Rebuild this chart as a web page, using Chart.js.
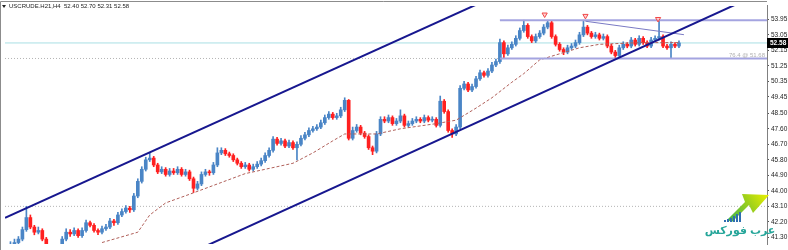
<!DOCTYPE html>
<html><head><meta charset="utf-8">
<script src="https://cdn.jsdelivr.net/npm/chart.js@4"></script>
<style>html,body{margin:0;padding:0;background:#fff;overflow:hidden}#wrap{width:788px;height:250px;position:relative}</style>
</head><body><div id="wrap"><canvas id="c" width="788" height="250"></canvas></div>
<script>
const symbolTitle = "USCRUDE.H21,H4";
const lastQuote = ["52.40", "52.70", "52.31", "52.58"];

const opens = [40.3,40.6,40.9,41.0,41.2,41.75,42.45,41.9,41.6,41.7,
41.2,40.6,40.2,40.4,40.6,41.2,41.6,41.5,41.7,41.4,
41.7,42.15,42.0,41.7,41.6,41.8,41.9,42.25,42.15,42.6,
42.8,43.0,42.9,43.7,44.55,45.25,45.8,45.9,45.5,45.1,
45.25,44.95,45.15,45.05,45.25,44.95,45.1,44.7,44.15,44.4,
44.95,45.1,45.05,45.5,46.2,46.35,46.15,46.05,45.8,45.6,
45.4,45.5,45.25,45.4,45.55,45.75,46.05,46.35,47.0,46.75,
46.9,46.6,46.8,46.5,46.7,47.05,47.25,47.5,47.6,47.7,
47.95,48.25,48.45,48.25,48.35,48.7,49.25,47.05,47.5,47.7,
47.35,47.15,46.5,46.3,47.3,48.15,48.05,48.25,47.9,48.05,
48.35,47.8,47.9,48.05,48.15,48.05,48.25,48.1,48.15,47.8,
49.2,48.6,47.5,47.3,47.7,49.95,50.2,49.85,50.05,50.5,
50.85,50.7,50.95,51.3,51.5,52.6,51.95,52.3,52.5,52.85,
53.3,53.6,52.95,52.7,52.95,53.15,53.5,53.75,52.95,52.5,
52.2,52.05,52.3,52.4,52.6,53.05,53.5,53.15,52.95,53.05,
52.85,52.95,52.4,52.05,51.85,52.3,52.5,52.4,52.75,52.5,
52.85,52.6,52.4,52.75,52.85,52.95,52.4,52.3,52.5,52.40];

const highs = [40.75,41.05,41.2,41.35,41.9,43.1,42.6,42.0,41.9,41.8,
41.3,40.7,40.55,40.75,41.35,41.8,41.75,41.85,41.8,41.85,
42.3,42.25,42.1,41.8,41.95,42.05,42.4,42.35,42.75,42.95,
43.15,43.1,43.85,44.7,45.4,45.95,46.2,46.0,45.6,45.4,
45.35,45.3,45.3,45.4,45.35,45.25,45.2,44.8,44.55,45.1,
45.25,45.2,45.65,46.5,46.5,46.45,46.25,46.15,45.9,45.7,
45.65,45.6,45.55,45.7,45.9,46.2,46.5,47.15,47.1,47.05,
47.0,46.95,46.9,46.85,47.2,47.4,47.65,47.75,47.85,48.1,
48.4,48.6,48.55,48.5,48.85,49.4,49.3,47.7,47.85,47.8,
47.45,47.25,46.6,47.45,48.3,48.3,48.4,48.35,48.2,48.7,
48.45,48.05,48.2,48.3,48.25,48.4,48.35,48.3,48.25,49.5,
49.3,48.7,47.6,47.85,50.1,50.35,50.3,50.2,50.65,51.0,
50.95,51.1,51.45,51.65,52.8,52.7,52.45,52.65,53.0,53.45,
53.9,53.7,53.05,53.1,53.3,53.65,53.9,53.85,53.05,52.6,
52.3,52.45,52.55,52.75,53.2,53.9,53.6,53.25,53.2,53.15,
53.1,53.05,52.5,52.15,52.45,52.65,52.6,52.9,52.85,53.0,
52.95,52.7,52.9,53.0,53.85,53.05,52.5,52.65,52.6,52.70];

const lows = [40.2,40.5,40.8,40.9,41.1,41.65,41.8,41.45,41.5,41.1,
40.5,40.05,40.1,40.3,40.5,41.1,41.35,41.4,41.3,41.3,
41.6,41.9,41.6,41.45,41.5,41.7,41.8,42.0,42.05,42.5,
42.7,42.75,42.8,43.6,44.45,45.15,45.7,45.4,45.0,45.0,
44.85,44.85,44.95,44.95,44.85,44.85,44.6,43.9,44.05,44.3,
44.85,44.9,44.95,45.4,46.1,46.05,45.95,45.7,45.5,45.3,
45.3,45.15,45.15,45.3,45.45,45.65,45.95,46.25,46.65,46.65,
46.5,46.5,46.4,45.8,46.6,46.95,47.15,47.4,47.5,47.6,
47.85,48.15,48.15,48.15,48.25,48.6,46.95,46.95,47.4,47.25,
47.05,46.4,46.1,46.2,47.2,47.95,47.95,47.8,47.8,47.95,
47.7,47.7,47.8,47.95,47.95,47.95,48.0,48.0,47.7,47.7,
48.5,47.4,47.1,47.2,47.6,49.85,49.75,49.75,49.95,50.4,
50.6,50.6,50.85,51.2,51.4,51.7,51.85,52.2,52.4,52.75,
53.2,52.85,52.6,52.6,52.85,53.05,53.4,52.85,52.4,52.1,
51.9,51.95,52.2,52.3,52.5,52.95,53.05,52.85,52.85,52.75,
52.75,52.3,51.95,51.65,51.75,52.2,52.3,52.3,52.4,52.4,
52.5,52.3,52.3,52.65,52.75,52.3,52.2,51.68,52.3,52.31];

const closes = [40.6,40.9,41.0,41.2,41.75,42.45,41.9,41.6,41.7,41.2,
40.6,40.2,40.4,40.6,41.2,41.6,41.5,41.7,41.4,41.7,
42.15,42.0,41.7,41.6,41.8,41.9,42.25,42.15,42.6,42.8,
43.0,42.9,43.7,44.55,45.25,45.8,45.9,45.5,45.1,45.25,
44.95,45.15,45.05,45.25,44.95,45.1,44.7,44.15,44.4,44.95,
45.1,45.05,45.5,46.2,46.35,46.15,46.05,45.8,45.6,45.4,
45.5,45.25,45.4,45.55,45.75,46.05,46.35,47.0,46.75,46.9,
46.6,46.8,46.5,46.7,47.05,47.25,47.5,47.6,47.7,47.95,
48.25,48.45,48.25,48.35,48.7,49.25,47.05,47.5,47.7,47.35,
47.15,46.5,46.3,47.3,48.15,48.05,48.25,47.9,48.05,48.35,
47.8,47.9,48.05,48.15,48.05,48.25,48.1,48.15,47.8,49.2,
48.6,47.5,47.3,47.7,49.95,50.2,49.85,50.05,50.5,50.85,
50.7,50.95,51.3,51.5,52.6,51.95,52.3,52.5,52.85,53.3,
53.6,52.95,52.7,52.95,53.15,53.5,53.75,52.95,52.5,52.2,
52.05,52.3,52.4,52.6,53.05,53.5,53.15,52.95,53.05,52.85,
52.95,52.4,52.05,51.85,52.3,52.5,52.4,52.75,52.5,52.85,
52.6,52.4,52.75,52.85,52.95,52.4,52.3,52.5,52.4,52.58];

// moving average (read at selected bars)
const maIndex  = [24, 33, 36, 40, 46, 53, 60, 65, 72, 77, 82, 85, 93, 99, 108, 113, 118, 122, 127, 130, 134, 139, 144, 149, 159, 169];
const maValues = [41.0, 41.6, 42.6, 43.3, 43.8, 44.4, 45.0, 45.25, 45.6, 46.2, 46.9, 47.3, 47.3, 47.6, 47.9, 48.1, 48.8, 49.4, 50.3, 50.8, 51.6, 51.95, 52.3, 52.5, 52.6, 52.6];

const tickLabels = [53.95, 53.05, 52.15, 51.25, 50.35, 49.45, 48.50, 47.60, 46.70, 45.80, 44.90, 44.00, 43.10, 42.20, 41.30];

// drawn objects, in bar index / price units
const upperChannel = [[-0.375, 42.44], [130, 56.05]];
const lowerChannel = [[50, 40.79], [192, 55.73]];
const trendLine = [[145.5, 53.84], [170.25, 53.06]];
const resistance = 53.90, support = 51.68, levelStart = 124;
const dottedLevel = 43.10;
const fibLabel = "76.4 @ 51.68";
const fractalX = [135.25, 145.5, 163.75];
const fractalY = [54.23, 54.15, 53.97];

const X_MIN = -0.375, X_MAX = 191.125;
const BULL = '#4a85c6', BEAR = '#ff2020';
const col = i => closes[i] >= opens[i] ? BULL : BEAR;
const seg = (a) => a.map(p => ({x: p[0], y: p[1]}));
const lineDs = (data, color, width, dash, order) => ({type: 'line', data, borderColor: color, borderWidth: width, borderDash: dash || [], pointRadius: 0, fill: false, tension: 0, order});

Chart.defaults.font.family = 'Liberation Sans';

const decor = {
  id: 'decor',
  afterDraw(chart) {
    const c = chart.ctx, a = chart.chartArea, ys = chart.scales.y;
    c.save();
    // frame
    c.strokeStyle = '#8c8c8c'; c.lineWidth = 1;
    c.beginPath(); c.moveTo(0.5, 250); c.lineTo(0.5, 1.5); c.lineTo(a.right, 1.5); c.stroke();
    // title
    c.fillStyle = '#222';
    c.beginPath(); c.moveTo(2, 5); c.lineTo(6, 5); c.lineTo(4, 8); c.closePath(); c.fill();
    c.font = '6px Liberation Sans'; c.textBaseline = 'middle'; c.textAlign = 'left';
    c.fillText(symbolTitle + '  ' + lastQuote.join(' '), 9, 6.5);
    // fib label
    c.fillStyle = '#b0b0b0'; c.textAlign = 'right'; c.font = '6px Liberation Sans';
    c.fillText(fibLabel, a.right - 2, ys.getPixelForValue(support) - 3);
    // price box
    const py = Math.round(ys.getPixelForValue(closes[closes.length - 1]));
    c.fillStyle = '#000'; c.fillRect(a.right, py - 5, 21, 10);
    c.fillStyle = '#fff'; c.textAlign = 'left'; c.font = 'bold 6.5px Liberation Sans';
    c.fillText(lastQuote[3], a.right + 3, py + 0.5);
    // watermark logo
    const g = c.createLinearGradient(725, 225, 768, 195);
    g.addColorStop(0, '#2cae5a'); g.addColorStop(0.6, '#9ccf1c'); g.addColorStop(1, '#e8f000');
    c.fillStyle = g;
    c.beginPath(); c.moveTo(742, 194); c.lineTo(769, 195); c.lineTo(753, 213); c.lineTo(749, 205); c.lineTo(732, 222); c.lineTo(727, 220); c.lineTo(745, 202); c.closePath(); c.fill();
    c.fillStyle = '#2f6fb0';
    [[724,2],[727,3],[730,4],[733,6],[736,8],[739,10]].forEach(b => c.fillRect(b[0], 222 - b[1], 2, b[1]));
    c.fillStyle = '#26a69a'; c.font = 'bold 11px "Noto Sans", "DejaVu Sans"'; c.textAlign = 'center';
    c.fillText('عرب فوركس', 740, 231);
    c.restore();
  }
};

new Chart(document.getElementById('c'), {
  type: 'bar',
  data: {
    datasets: [
      lineDs([{x: X_MIN, y: closes[closes.length - 1]}, {x: X_MAX, y: closes[closes.length - 1]}], '#a8dfe4', 1, null, 30),
      lineDs([{x: X_MIN, y: support}, {x: levelStart, y: support}], '#b4b4b4', 1, [1, 2], 30),
      lineDs([{x: X_MIN, y: dottedLevel}, {x: X_MAX, y: dottedLevel}], '#b4b4b4', 1, [1, 2], 30),
      {type: 'bar', data: lows.map((l, i) => ({x: i, y: [l, highs[i]]})), backgroundColor: c => col(c.dataIndex), barThickness: 1, grouped: false, order: 20},
      {type: 'bar', data: opens.map((o, i) => ({x: i, y: [o, closes[i]]})), backgroundColor: c => col(c.dataIndex), barThickness: 3, minBarLength: 1, grouped: false, order: 19},
      lineDs(maIndex.map((x, i) => ({x, y: maValues[i]})), '#b0605a', 1, [3, 2], 15),
      lineDs([{x: levelStart, y: resistance}, {x: X_MAX, y: resistance}], '#a4a4e0', 2, null, 5),
      lineDs([{x: levelStart, y: support}, {x: X_MAX, y: support}], '#a4a4e0', 2, null, 5),
      lineDs(seg(trendLine), '#7a7ac4', 1, null, 4),
      lineDs(seg(upperChannel), '#17178f', 2, null, 3),
      lineDs(seg(lowerChannel), '#17178f', 2, null, 3),
      {type: 'line', data: fractalX.map((x, i) => ({x, y: fractalY[i]})), showLine: false, pointStyle: 'triangle', rotation: 180, pointRadius: 3, borderColor: '#f04848', backgroundColor: 'rgba(255,190,190,0.7)', borderWidth: 1, order: 1}
    ]
  },
  options: {
    responsive: false, animation: false, events: [],
    layout: {padding: {top: 2, left: 1, right: 0, bottom: 0}},
    plugins: {legend: {display: false}, tooltip: {enabled: false}},
    scales: {
      x: {type: 'linear', display: false, min: X_MIN, max: X_MAX, offset: false},
      y: {
        position: 'right', min: 40.91, max: 54.73,
        afterFit: s => { s.width = 21; },
        afterBuildTicks: s => { s.ticks = tickLabels.map(v => ({value: v})); },
        grid: {drawOnChartArea: false, tickLength: 2, color: '#555'},
        border: {display: true, color: '#808080', width: 1},
        ticks: {callback: v => Number(v).toFixed(2), font: {size: 6.5}, color: '#222', padding: 2, autoSkip: false}
      }
    }
  },
  plugins: [decor]
});
</script>
</body></html>
